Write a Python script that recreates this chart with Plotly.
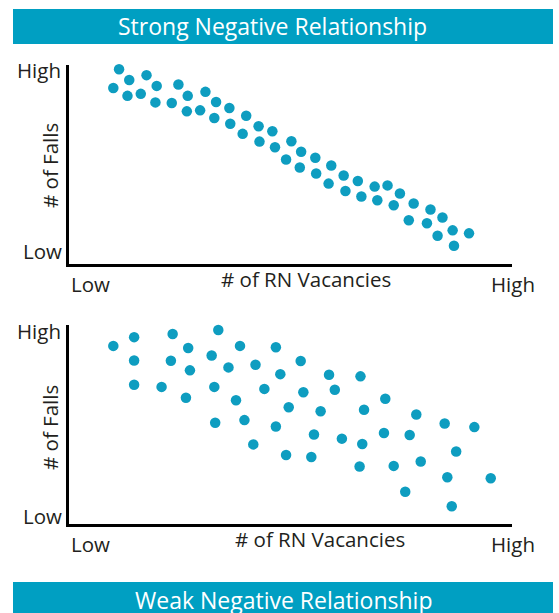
import plotly.graph_objects as go

W, H = 559, 613
TEAL = "#009FC2"
DOT = "#0E9DC0"
TEXT = "#231F20"
FONT = "Open Sans"

# strong negative relationship (0-100 scale, no numeric ticks on the original)
strong_x = [11.3, 10.0, 13.6, 13.2, 17.5, 16.2, 19.8, 19.5, 24.7, 23.2,
            26.8, 26.6, 29.6, 30.8, 33.2, 32.8, 36.2, 36.4, 40.0, 39.2,
            42.8, 43.0, 45.9, 46.5, 50.2, 49.0, 52.4, 52.1, 55.6, 55.8,
            59.2, 58.6, 62.0, 62.4, 65.2, 66.0, 69.0, 69.6, 71.9, 74.7,
            73.3, 77.8, 76.7, 81.6, 80.8, 84.3, 83.2, 86.6, 90.3, 86.9]
strong_y = [97.9, 88.4, 92.5, 84.5, 94.9, 85.5, 89.5, 81.2, 90.2, 80.9,
            84.5, 76.7, 77.2, 86.5, 81.4, 73.4, 78.4, 70.5, 74.5, 65.4,
            69.2, 61.5, 66.7, 58.7, 61.7, 52.5, 56.4, 48.5, 53.4, 45.5,
            49.5, 40.4, 44.5, 36.7, 41.7, 33.9, 38.9, 32.0, 39.5, 35.4,
            29.5, 30.4, 22.0, 27.4, 20.5, 23.4, 14.2, 16.9, 15.4, 9.2]

# weak negative relationship
weak_x = [10.0, 14.7, 14.7, 14.7, 20.7, 20.9, 23.4, 23.0, 26.9, 27.3,
          26.4, 33.7, 32.2, 32.8, 33.0, 36.0, 37.7, 39.6, 38.6, 42.1,
          44.1, 41.6, 46.7, 47.7, 46.7, 49.6, 49.0, 52.3, 52.9, 54.7,
          56.8, 55.3, 58.7, 60.0, 61.6, 65.8, 66.6, 66.2, 65.6, 71.4,
          71.1, 73.3, 75.9, 76.9, 78.4, 79.4, 84.8, 87.4, 85.4, 86.4,
          91.5, 95.2]
weak_y = [89.5, 93.9, 82.2, 70.0, 102.9, 68.9, 95.5, 82.0, 88.4, 77.2,
          63.4, 97.5, 84.7, 68.9, 50.9, 78.7, 62.2, 52.2, 89.5, 80.0,
          67.9, 40.0, 88.8, 75.3, 49.0, 58.7, 34.7, 81.9, 66.2, 33.7,
          56.7, 45.0, 75.0, 67.5, 42.9, 74.2, 57.4, 40.2, 28.9, 62.9,
          45.7, 29.2, 16.2, 44.7, 55.0, 31.4, 50.5, 36.4, 23.5, 8.9,
          48.7, 23.0]

banners = ["Strong Negative Relationship", "Weak Negative Relationship"]
y_title = "# of Falls"
x_title = "# of RN Vacancies"


def px(x):
    return x / W


def py(y):
    return 1 - y / H


fig = go.Figure()

# pixel boxes of the two plot areas: (top, bottom)
panels = [(65, 264), (325, 524)]
x_left, x_right = 69, 512

for i, (xs, ys) in enumerate([(strong_x, strong_y), (weak_x, weak_y)]):
    n = "" if i == 0 else "2"
    fig.add_trace(go.Scatter(
        x=xs, y=ys, mode="markers",
        marker=dict(color=DOT, size=10.5, line=dict(width=0)),
        cliponaxis=False, showlegend=False, hoverinfo="skip",
        xaxis="x" + n, yaxis="y" + n
    ))
    top, bot = panels[i]
    axis_common = dict(showgrid=False, zeroline=False, showticklabels=False,
                       ticks="", showline=True, linecolor="black", linewidth=3,
                       range=[0, 100], fixedrange=True)
    fig.layout["xaxis" + n] = dict(axis_common, domain=[px(x_left), px(x_right)],
                                   anchor="y" + n)
    fig.layout["yaxis" + n] = dict(axis_common, domain=[py(bot), py(top)],
                                   anchor="x" + n)

annotations = []


def label(text, x, y, xanchor="center", size=20.5, angle=0, color=TEXT):
    annotations.append(dict(
        text=text, x=px(x), y=py(y), xref="paper", yref="paper",
        xanchor=xanchor, yanchor="middle", showarrow=False, textangle=angle,
        font=dict(family=FONT, size=size, color=color)
    ))


# top panel texts
label("High", 63, 70, "right")
label("Low", 64, 251, "right")
label(y_title, 50, 166, angle=-90)
label("Low", 69, 284, "left")
label(x_title, 306, 279)
label("High", 489, 284, "left")

# bottom panel texts
label("High", 63, 331, "right")
label("Low", 64, 516, "right")
label(y_title, 50, 428, angle=-90)
label("Low", 69, 544, "left")
label(x_title, 320, 539)
label("High", 489, 544, "left")

# banners
shapes = [
    dict(type="rect", xref="paper", yref="paper", x0=px(13), x1=px(553),
         y0=py(44), y1=py(9), fillcolor=TEAL, line=dict(width=0), layer="below"),
    dict(type="rect", xref="paper", yref="paper", x0=px(13), x1=px(553),
         y0=py(613), y1=py(582), fillcolor=TEAL, line=dict(width=0), layer="below"),
]
label(banners[0], 272, 26, size=23, color="white")
label(banners[1], 283, 600, size=23, color="white")

fig.update_layout(
    width=W, height=H,
    margin=dict(l=0, r=0, t=0, b=0),
    paper_bgcolor="white", plot_bgcolor="white",
    shapes=shapes, annotations=annotations
)

fig.write_html("out.html", config={"displayModeBar": False},
               post_script="document.body.style.margin='0';")
